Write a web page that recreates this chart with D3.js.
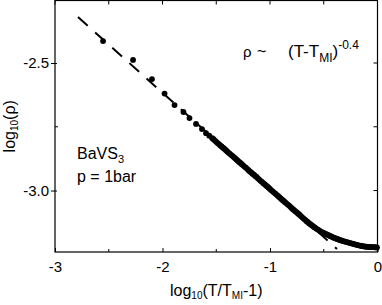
<!DOCTYPE html>
<html>
<head>
<meta charset="utf-8">
<script src="https://cdn.jsdelivr.net/npm/d3@7"></script>
<style>
  body { margin: 0; background: #fff; }
  svg text { font-family: "Liberation Sans", Arial, sans-serif; fill: #000; }
</style>
</head>
<body>
<svg id="chart" width="382" height="305"></svg>
<script>
// sparse points at the left, far from T_MI
var sparseX = [-2.553, -2.274, -2.098, -1.981, -1.888, -1.805, -1.749, -1.688, -1.633, -1.595, -1.565];
var sparseY = [-2.414, -2.488, -2.563, -2.620, -2.665, -2.692, -2.716, -2.739, -2.759, -2.775, -2.785];

// dense part, points overlap into a thick curve
var denseX = [-1.525, -1.500, -1.475, -1.450, -1.425, -1.400, -1.375, -1.350, -1.325, -1.300,
              -1.275, -1.250, -1.225, -1.200, -1.175, -1.150, -1.125, -1.100, -1.075, -1.050,
              -1.025, -1.000, -0.975, -0.950, -0.925, -0.900, -0.875, -0.850, -0.825, -0.800,
              -0.775, -0.750, -0.725, -0.700, -0.675, -0.650, -0.625, -0.600, -0.575, -0.550,
              -0.525, -0.500, -0.475, -0.450, -0.425, -0.400, -0.375, -0.350, -0.325, -0.300,
              -0.275, -0.250, -0.225, -0.200, -0.175, -0.150, -0.125, -0.100, -0.075, -0.050,
              -0.025, -0.005];
var denseY = [-2.799, -2.809, -2.818, -2.827, -2.836, -2.846, -2.855, -2.864, -2.873, -2.883,
              -2.892, -2.901, -2.910, -2.920, -2.929, -2.938, -2.947, -2.957, -2.966, -2.975,
              -2.984, -2.994, -3.003, -3.012, -3.021, -3.031, -3.040, -3.049, -3.058, -3.068,
              -3.077, -3.086, -3.095, -3.105, -3.114, -3.123, -3.132, -3.140, -3.147, -3.154,
              -3.161, -3.166, -3.171, -3.176, -3.181, -3.186, -3.190, -3.194, -3.197, -3.200,
              -3.203, -3.206, -3.209, -3.212, -3.215, -3.217, -3.219, -3.220, -3.221, -3.222,
              -3.222, -3.223];

// further points between those, where the spacing in the picture is tighter
var midX = [-1.5375, -1.5125, -1.4875, -1.4625, -1.4375, -1.4125, -1.3875, -1.3625, -1.3375, -1.3125,
            -1.2875, -1.2625, -1.2375, -1.2125, -1.1875, -1.1625, -1.1375, -1.1125, -1.0875, -1.0625,
            -1.0375, -1.0125, -0.9875, -0.9625, -0.9375, -0.9125, -0.8875, -0.8625, -0.8375, -0.8125,
            -0.7875, -0.7625, -0.7375, -0.7125, -0.6875, -0.6625, -0.6375, -0.6125, -0.5875, -0.5625,
            -0.5375, -0.5125, -0.4875, -0.4625, -0.4375, -0.4125, -0.3875, -0.3625, -0.3375, -0.3125,
            -0.2875, -0.2625, -0.2375, -0.2125, -0.1875, -0.1625, -0.1375, -0.1125, -0.0875, -0.0625,
            -0.0375, -0.0150];
var midY = [-2.795, -2.804, -2.814, -2.823, -2.832, -2.841, -2.851, -2.860, -2.869, -2.878,
            -2.888, -2.897, -2.906, -2.915, -2.925, -2.934, -2.943, -2.952, -2.962, -2.971,
            -2.980, -2.989, -2.999, -3.008, -3.017, -3.026, -3.036, -3.045, -3.054, -3.063,
            -3.073, -3.082, -3.091, -3.100, -3.110, -3.119, -3.128, -3.136, -3.144, -3.151,
            -3.158, -3.164, -3.169, -3.174, -3.179, -3.184, -3.188, -3.192, -3.196, -3.199,
            -3.202, -3.205, -3.208, -3.211, -3.214, -3.216, -3.218, -3.220, -3.221, -3.222,
            -3.222, -3.223];

// power law fit, dashed
var fitX = [-2.786, -0.377];
var fitY = [-2.320, -3.229];

var xMajor = [-3, -2, -1, 0];
var xMinor = [-2.5, -1.5, -0.5];
var yMajor = [-2.5, -3.0];
var yMinor = [-2.75];

function hyphen(s) { return s.replace("\u2212", "-"); }

var svg = d3.select("#chart");
var pLeft = 55, pRight = 377.5, pTop = 0.5, pBottom = 252;

var x = d3.scaleLinear().domain([-3, 0]).range([pLeft, pRight]);
var y = d3.scaleLinear().domain([-3.241, -2.2549]).range([pBottom, pTop]);

// frame
svg.append("rect")
  .attr("x", pLeft).attr("y", pTop)
  .attr("width", pRight - pLeft).attr("height", pBottom - pTop)
  .attr("fill", "none").attr("stroke", "#000").attr("stroke-width", 1.2);

// bottom axis
var gx = svg.append("g")
  .attr("transform", "translate(0," + pBottom + ")")
  .call(d3.axisBottom(x).tickValues(xMajor).tickSize(-4).tickPadding(9)
    .tickFormat(d => hyphen(d3.format("d")(d))));
gx.select(".domain").remove();
gx.selectAll("text").attr("font-size", 15).attr("font-family", null);

// top ticks
var ticksTop = xMajor.concat(xMinor);
svg.selectAll("line.tt").data(ticksTop).enter().append("line")
  .attr("x1", d => x(d)).attr("x2", d => x(d))
  .attr("y1", pTop).attr("y2", pTop + 4)
  .attr("stroke", "#000");
svg.selectAll("line.bm").data(xMinor).enter().append("line")
  .attr("x1", d => x(d)).attr("x2", d => x(d))
  .attr("y1", pBottom).attr("y2", pBottom - 3)
  .attr("stroke", "#000");

// left axis
var gy = svg.append("g")
  .attr("transform", "translate(" + pLeft + ",0)")
  .call(d3.axisLeft(y).tickValues(yMajor).tickSize(4).tickPadding(2)
    .tickFormat(d => hyphen(d3.format(".1f")(d))));
gy.select(".domain").remove();
gy.selectAll("text").attr("font-size", 15).attr("font-family", null);
gy.selectAll(".tick line").attr("x2", -4).attr("x1", 2);

svg.selectAll("line.lm").data(yMinor).enter().append("line")
  .attr("x1", pLeft).attr("x2", pLeft + 3)
  .attr("y1", d => y(d)).attr("y2", d => y(d))
  .attr("stroke", "#000");

// right ticks
svg.selectAll("line.rt").data(yMajor.concat(yMinor)).enter().append("line")
  .attr("x1", pRight).attr("x2", pRight - 4)
  .attr("y1", d => y(d)).attr("y2", d => y(d))
  .attr("stroke", "#000");

// fit line
svg.append("line")
  .attr("x1", x(fitX[0])).attr("y1", y(fitY[0]))
  .attr("x2", x(fitX[1])).attr("y2", y(fitY[1]))
  .attr("stroke", "#000").attr("stroke-width", 2)
  .attr("stroke-dasharray", "13,10");

// data points
var pts = sparseX.map((v, i) => [v, sparseY[i]])
  .concat(denseX.map((v, i) => [v, denseY[i]]))
  .concat(midX.map((v, i) => [v, midY[i]]));
svg.selectAll("circle.pt").data(pts).enter().append("circle")
  .attr("cx", d => x(d[0])).attr("cy", d => y(d[1]))
  .attr("r", 2.9).attr("fill", "#000");

// axis titles
var xl = svg.append("text")
  .attr("x", (pLeft + pRight) / 2).attr("y", 296)
  .attr("text-anchor", "middle").attr("font-size", 16);
xl.append("tspan").text("log");
xl.append("tspan").attr("font-size", 10).attr("dy", 3).text("10");
xl.append("tspan").attr("dy", -3).text("(T/T");
xl.append("tspan").attr("font-size", 10).attr("dy", 3).text("MI");
xl.append("tspan").attr("dy", -3).text("-1)");

var yl = svg.append("text")
  .attr("transform", "translate(15," + ((pTop + pBottom) / 2) + ") rotate(-90)")
  .attr("text-anchor", "middle").attr("font-size", 16);
yl.append("tspan").text("log");
yl.append("tspan").attr("font-size", 10).attr("dy", 3).text("10");
yl.append("tspan").attr("dy", -3).text("(ρ)");

// annotations
var t1 = svg.append("text").attr("x", 77).attr("y", 159).attr("font-size", 16);
t1.append("tspan").text("BaVS");
t1.append("tspan").attr("font-size", 11).attr("dy", 4).text("3");
svg.append("text").attr("x", 77).attr("y", 182).attr("font-size", 16).text("p = 1bar");

svg.append("text").attr("x", 243).attr("y", 57).attr("font-size", 15).text("ρ");
svg.append("text").attr("x", 257).attr("y", 57).attr("font-size", 16).text("~");
var f = svg.append("text").attr("x", 288).attr("y", 57).attr("font-size", 17);
f.append("tspan").text("(T-T");
f.append("tspan").attr("font-size", 12).attr("dy", 5).text("MI");
f.append("tspan").attr("dy", -5).text(")");
f.append("tspan").attr("font-size", 12).attr("dy", -8).text("-0.4");
</script>
</body>
</html>
